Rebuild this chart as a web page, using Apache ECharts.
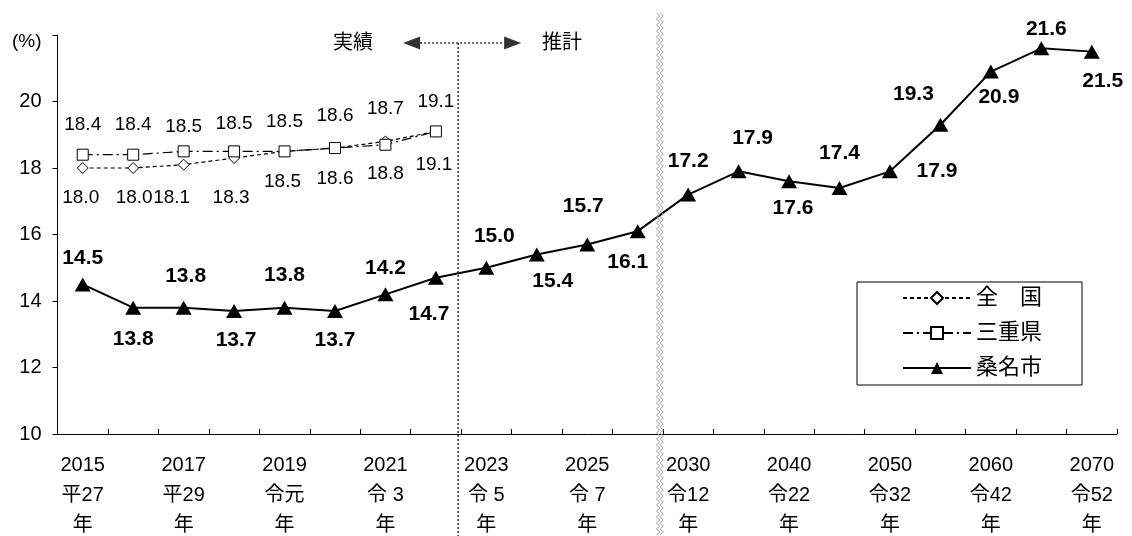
<!DOCTYPE html>
<html><head><meta charset="utf-8">
<script src="https://cdn.jsdelivr.net/npm/echarts@6/dist/echarts.min.js"></script>
<style>html,body{margin:0;padding:0;background:#fff}#c{width:1132px;height:536px}</style>
</head><body><div id="c"></div>
<script>
// ---- data ----
const years = ['2015','2016','2017','2018','2019','2020','2021','2022','2023','2024','2025','2026','2030','2035','2040','2045','2050','2055','2060','2065','2070'];
const eras = ['平27','平28','平29','平30','令元','令 2','令 3','令 4','令 5','令 6','令 7','令 8','令12','令17','令22','令27','令32','令37','令42','令47','令52'];
const zenkoku = [18.0,18.0,18.1,18.3,18.5,18.6,18.8,19.1];
const mie = [18.4,18.4,18.5,18.5,18.5,18.6,18.7,19.1];
const kuwana = [14.5,13.8,13.8,13.7,13.8,13.7,14.2,14.7,15.0,15.4,15.7,16.1,17.2,17.9,17.6,17.4,17.9,19.3,20.9,21.6,21.5];
const seriesNames = ['全　国','三重県','桑名市'];
const yMin = 10, yMax = 22, yStep = 2;

// ---- label placement (style) ----
const kuwanaOff = [[0,-26],[0,32],[2,-31],[2,29],[0,-32],[0,29],[0,-26],[-7,36],[8,-32],[16,27],[-4,-38],[-10,31],[0,-33],[14,-33],[4,27],[0,-35],[47,0],[-27,-31],[8,26],[5,-19],[11,30]];
const mieOff = [[0,-30],[0,-30],[0,-25],[0,-28],[0,-30],[0,-32],[0,-36],[0,-30]];
const zenOff = [[-2,30],[1,30],[-12,33],[-3,40],[-2,30],[0,31],[0,32],[-2,33]];

const FONT = "'Liberation Sans', Arial, 'Noto Sans CJK JP', sans-serif";
const chart = echarts.init(document.getElementById('c'), null, {renderer:'canvas'});

function items(vals, offs){
  return vals.map((v,i)=>({value:v, label:{offset:offs[i]}}));
}
const fmt1 = p => Number(p.value).toFixed(1);

const option = {
  animation:false,
  backgroundColor:'#fff',
  textStyle:{fontFamily:FONT, color:'#000'},
  grid:{left:57.5, right:15, top:35, bottom:102, containLabel:false, outerBoundsMode:'none'},
  xAxis:{
    type:'category', data:years, boundaryGap:true,
    axisLine:{show:true, lineStyle:{color:'#000', width:1}},
    axisTick:{show:true, inside:true, length:5, interval:0, lineStyle:{color:'#000'}},
    axisLabel:{interval:0, color:'#000', fontSize:20, fontFamily:FONT, lineHeight:30, margin:16,
      formatter:(v,i)=> i%2===0 ? v+'\n'+eras[i]+'\n年' : ''},
    splitLine:{show:false}
  },
  yAxis:{
    type:'value', min:yMin, max:yMax, interval:yStep,
    axisLine:{show:true, lineStyle:{color:'#000', width:1}},
    axisTick:{show:true, inside:false, length:5, lineStyle:{color:'#000'}},
    axisLabel:{color:'#000', fontSize:20, fontFamily:FONT, margin:16,
      formatter:v=> v>=yMax ? '' : String(v)},
    splitLine:{show:false}
  },
  legend:{
    show:true, orient:'vertical', left:857, top:282,
    data:seriesNames, selectedMode:false,
    itemWidth:68, itemHeight:15, itemGap:11,
    padding:[4,40,5,45],
    borderColor:'#000', borderWidth:1, backgroundColor:'#fff',
    textStyle:{fontSize:22, color:'#000', fontFamily:FONT, lineHeight:24}
  },
  series:[
    {
      name:seriesNames[0], type:'line', data:items(zenkoku, zenOff),
      symbol:'diamond', symbolSize:[11,11], z:2,
      lineStyle:{color:'#000', width:1.2, type:[4,3]},
      itemStyle:{color:'#fff', borderColor:'#000', borderWidth:1},
      label:{show:true, position:'inside', color:'#000', fontSize:19, fontFamily:FONT, formatter:fmt1}
    },
    {
      name:seriesNames[1], type:'line', data:items(mie, mieOff),
      symbol:'rect', symbolSize:[11,11], z:3,
      lineStyle:{color:'#000', width:1.2, type:[10,4,2,4]},
      itemStyle:{color:'#fff', borderColor:'#000', borderWidth:1},
      label:{show:true, position:'inside', color:'#000', fontSize:19, fontFamily:FONT, formatter:fmt1}
    },
    {
      name:seriesNames[2], type:'line', data:items(kuwana, kuwanaOff),
      symbol:'triangle', symbolSize:[16,14], z:4,
      lineStyle:{color:'#000', width:2, type:'solid'},
      itemStyle:{color:'#000', borderColor:'#000', borderWidth:0},
      label:{show:true, position:'inside', color:'#000', fontSize:21, fontWeight:'bold', fontFamily:FONT, formatter:fmt1}
    }
  ]
};
chart.setOption(option);

// ---- annotations positioned from the axis ----
const px = i => chart.convertToPixel({xAxisIndex:0}, i);
const xb = (px(7)+px(8))/2 - 3;   // 実績 / 推計 boundary
const xw = (px(11)+px(12))/2 - 3; // axis break
const yTop = 43;
const dotted = {stroke:'#333', lineWidth:1.5, lineDash:[2,2]};
function wave(x0){
  const pts=[]; let k=0;
  for(let y=13;y<=536;y+=3){ pts.push([x0 + (k%2?1.6:-1.6), y]); k++; }
  return pts;
}
const g = [
  {type:'text', left:12, top:32, style:{text:'(%)', fill:'#000', font:"19px "+FONT}},
  {type:'line', shape:{x1:xb, y1:yTop, x2:xb, y2:536}, style:dotted, z:10},
  {type:'line', shape:{x1:xb-38, y1:yTop, x2:xb+46, y2:yTop}, style:dotted, z:10},
  {type:'polygon', shape:{points:[[xb-55,yTop],[xb-38,yTop-6.5],[xb-38,yTop+6.5]]}, style:{fill:'#333'}, z:10},
  {type:'polygon', shape:{points:[[xb+63,yTop],[xb+46,yTop-6.5],[xb+46,yTop+6.5]]}, style:{fill:'#333'}, z:10},
  {type:'text', x:xb-105, y:yTop, style:{text:'実績', font:"20px "+FONT, fill:'#000', align:'center', verticalAlign:'middle'}, z:10},
  {type:'text', x:xb+104, y:yTop, style:{text:'推計', font:"20px "+FONT, fill:'#000', align:'center', verticalAlign:'middle'}, z:10},
  {type:'polyline', shape:{points:wave(xw-1.8)}, style:{stroke:'#999', lineWidth:1, fill:null}, z:11},
  {type:'polyline', shape:{points:wave(xw+1.8)}, style:{stroke:'#999', lineWidth:1, fill:null}, z:11}
];
chart.setOption({graphic:g});
</script>
</body></html>
